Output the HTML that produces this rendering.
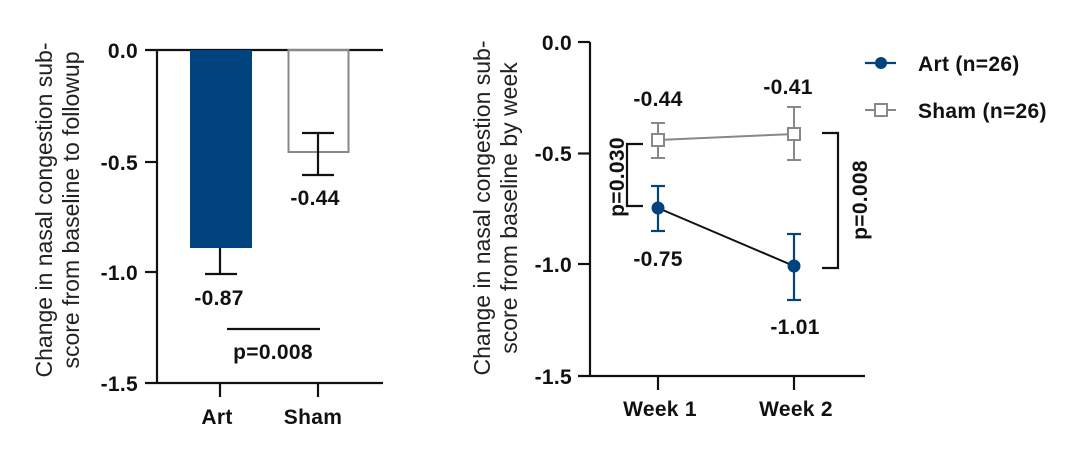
<!DOCTYPE html>
<html><head><meta charset="utf-8"><style>
html,body{margin:0;padding:0;background:#fff;}
svg{display:block;font-family:"Liberation Sans",sans-serif;}
.b{font-weight:bold;font-size:21px;fill:#111;letter-spacing:0.3px;}
.t{font-size:23px;fill:#222;}
</style></head><body>
<svg width="1078" height="456" viewBox="0 0 1078 456">
<!-- LEFT CHART -->
<g stroke="#111" stroke-width="2.2" fill="none">
<line x1="157" y1="50" x2="157" y2="384"/>
<line x1="145" y1="50" x2="383" y2="50"/>
<line x1="145" y1="383" x2="383" y2="383"/>
<line x1="145" y1="162" x2="157" y2="162"/>
<line x1="145" y1="272" x2="157" y2="272"/>
<line x1="220" y1="383" x2="220" y2="397"/>
<line x1="318" y1="383" x2="318" y2="397"/>
</g>
<rect x="190" y="50" width="62" height="198" fill="#00437f"/>
<rect x="288.5" y="50" width="60" height="102" fill="none" stroke="#888" stroke-width="2"/>
<g stroke="#111" stroke-width="2.2">
<line x1="220" y1="248" x2="220" y2="274"/><line x1="205" y1="274" x2="237" y2="274"/>
<line x1="318" y1="133" x2="318" y2="175"/><line x1="302" y1="133" x2="334" y2="133"/><line x1="302" y1="175" x2="334" y2="175"/>
<line x1="227" y1="329" x2="320" y2="329"/>
</g>
<g class="b" text-anchor="end">
<text x="138" y="58">0.0</text><text x="138" y="170">-0.5</text><text x="138" y="280">-1.0</text><text x="138" y="391">-1.5</text>
</g>
<g class="b" text-anchor="middle">
<text x="219" y="305">-0.87</text><text x="315" y="205">-0.44</text>
<text x="273" y="359">p=0.008</text>
<text x="217" y="424">Art</text><text x="313" y="424">Sham</text>
</g>
<g class="t" text-anchor="middle" transform="translate(52,210) rotate(-90)">
<text x="0" y="0">Change in nasal congestion sub-</text>
<text x="0" y="27">score from baseline to followup</text>
</g>
<!-- RIGHT CHART -->
<g stroke="#111" stroke-width="2.2" fill="none">
<line x1="590" y1="42" x2="590" y2="377"/>
<line x1="578" y1="42" x2="590" y2="42"/>
<line x1="578" y1="153.5" x2="590" y2="153.5"/>
<line x1="578" y1="264" x2="590" y2="264"/>
<line x1="578" y1="376" x2="865" y2="376"/>
<line x1="658" y1="376" x2="658" y2="390"/>
<line x1="794" y1="376" x2="794" y2="390"/>
<polyline points="643,144 627,144 627,206 643,206"/>
<polyline points="822,133 838,133 838,268 822,268"/>
</g>
<g stroke="#888" stroke-width="2" fill="none">
<line x1="658" y1="140" x2="794" y2="134"/>
<line x1="658" y1="123" x2="658" y2="158"/><line x1="651" y1="123" x2="665" y2="123"/><line x1="651" y1="158" x2="665" y2="158"/>
<line x1="794" y1="107" x2="794" y2="160"/><line x1="787" y1="107" x2="801" y2="107"/><line x1="787" y1="160" x2="801" y2="160"/>
<rect x="652" y="134" width="12" height="12" fill="#fff"/>
<rect x="788" y="128" width="12" height="12" fill="#fff"/>
<line x1="865" y1="110" x2="896" y2="110"/>
<rect x="875" y="104" width="12" height="12" fill="#fff"/>
</g>
<line x1="658" y1="208" x2="794" y2="266" stroke="#111" stroke-width="2"/>
<g stroke="#00437f" stroke-width="2.2">
<line x1="658" y1="186" x2="658" y2="231"/><line x1="651" y1="186" x2="665" y2="186"/><line x1="651" y1="231" x2="665" y2="231"/>
<line x1="794" y1="234" x2="794" y2="300"/><line x1="787" y1="234" x2="801" y2="234"/><line x1="787" y1="300" x2="801" y2="300"/>
<line x1="865" y1="63" x2="896" y2="63"/>
</g>
<g fill="#00437f">
<circle cx="658" cy="208" r="6.5"/><circle cx="794" cy="266" r="6.5"/><circle cx="881" cy="63" r="6"/>
</g>
<g class="b" text-anchor="end">
<text x="572" y="50">0.0</text><text x="572" y="161">-0.5</text><text x="572" y="272">-1.0</text><text x="572" y="384">-1.5</text>
</g>
<g class="b" text-anchor="middle">
<text x="658" y="106">-0.44</text><text x="788" y="94">-0.41</text>
<text x="658" y="266">-0.75</text><text x="795" y="334">-1.01</text>
<text x="660" y="416">Week 1</text><text x="796" y="416">Week 2</text>
<text transform="translate(624,177) rotate(-90)">p=0.030</text>
<text transform="translate(867,200) rotate(-90)">p=0.008</text>
</g>
<g class="b"><text x="918" y="71">Art (n=26)</text><text x="918" y="118">Sham (n=26)</text></g>
<g class="t" text-anchor="middle" transform="translate(490,208) rotate(-90)">
<text x="0" y="0">Change in nasal congestion sub-</text>
<text x="0" y="27">score from baseline by week</text>
</g>
</svg>
</body></html>
